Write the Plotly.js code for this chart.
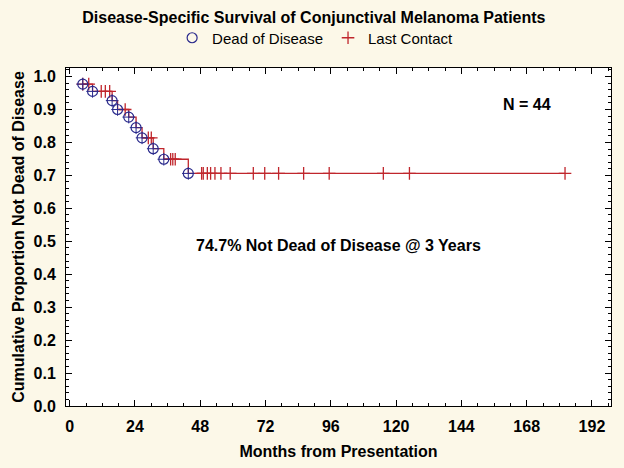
<!DOCTYPE html>
<html>
<head>
<meta charset="utf-8">
<script src="https://cdn.plot.ly/plotly-3.0.1.min.js"></script>
<style>
  html, body { margin: 0; padding: 0; background: #fcf8e8; }
  #chart { width: 624px; height: 468px; }
</style>
</head>
<body>
<div id="chart"></div>
<script>
// Event times (months) where patients died of disease, and survival after each event
var eventMonths   = [4.8, 8.4, 15.6, 17.6, 21.7, 24.4, 26.6, 30.7, 34.6, 43.6];
var eventSurvival = [0.977, 0.955, 0.927, 0.900, 0.877, 0.845, 0.814, 0.781, 0.749, 0.706];

// Censored (last contact) times and the survival level at which they sit
var censorMonths = [4.8, 7.0, 11.6, 13.1, 14.7, 20.4, 28.9, 30.0, 37.1, 37.9, 38.8,
                    48.5, 49.1, 50.6, 51.8, 53.4, 55.6, 59.0, 67.5, 71.7, 76.8, 86.0,
                    95.4, 115.3, 124.9, 182.1];
var censorSurvival = [0.977, 0.977, 0.955, 0.955, 0.955, 0.900, 0.814, 0.814, 0.749, 0.749, 0.749,
                      0.706, 0.706, 0.706, 0.706, 0.706, 0.706, 0.706, 0.706, 0.706, 0.706, 0.706,
                      0.706, 0.706, 0.706, 0.706];

var xTicks = [0, 24, 48, 72, 96, 120, 144, 168, 192];
var yTicks = [0.0, 0.1, 0.2, 0.3, 0.4, 0.5, 0.6, 0.7, 0.8, 0.9, 1.0];
var yTickLabels = ['0.0','0.1','0.2','0.3','0.4','0.5','0.6','0.7','0.8','0.9','1.0'];

var titleText = 'Disease-Specific Survival of Conjunctival Melanoma Patients';
var nText = 'N = 44';
var survText = '74.7% Not Dead of Disease @ 3 Years';

// Step curve built from the event data, extended to the last follow-up
var lastMonth = censorMonths[censorMonths.length - 1];
var stepX = eventMonths.concat([lastMonth]);
var stepY = eventSurvival.concat([eventSurvival[eventSurvival.length - 1]]);

var red = '#c0262c';
var navy = '#2a2a8c';
var FONT = 'Liberation Sans, Arial, sans-serif';

var traces = [
  {
    x: stepX, y: stepY, type: 'scatter', mode: 'lines',
    line: { shape: 'hv', color: red, width: 1.3 },
    showlegend: false, hoverinfo: 'skip'
  },
  {
    x: censorMonths, y: censorSurvival, type: 'scatter', mode: 'markers',
    name: 'Last Contact',
    marker: { symbol: 'cross-thin-open', size: 9, color: red, line: { color: red, width: 1.3 } }
  },
  {
    x: eventMonths, y: eventSurvival, type: 'scatter', mode: 'markers',
    showlegend: false, hoverinfo: 'skip',
    marker: { symbol: 'cross-thin-open', size: 9, color: navy, line: { color: navy, width: 1 } }
  },
  {
    x: eventMonths, y: eventSurvival, type: 'scatter', mode: 'markers',
    name: 'Dead of Disease',
    marker: { symbol: 'circle-open', size: 10, color: navy, line: { color: navy, width: 1.2 } }
  }
];

var layout = {
  width: 624, height: 468,
  paper_bgcolor: '#fcf8e8',
  plot_bgcolor: '#ffffff',
  margin: { l: 66, r: 13, t: 68, b: 62 },
  font: { family: FONT, color: '#000' },
  title: {
    text: '<b>' + titleText + '</b>',
    font: { family: FONT, size: 16, color: '#000' },
    x: 0.503, xref: 'container', xanchor: 'center',
    y: 1 - 17 / 468, yref: 'container', yanchor: 'middle'
  },
  showlegend: true,
  legend: {
    orientation: 'h',
    traceorder: 'reversed',
    x: 0.505, xref: 'container', xanchor: 'center',
    y: 1 - 38 / 468, yref: 'container', yanchor: 'middle',
    bgcolor: 'rgba(0,0,0,0)',
    font: { family: FONT, size: 15, color: '#000' },
    itemwidth: 30
  },
  xaxis: {
    range: [-1.36, 199],
    tickvals: xTicks,
    ticktext: xTicks.map(String),
    ticks: 'inside', ticklen: 6, tickwidth: 1, tickcolor: '#000',
    minor: { dtick: 6, ticks: 'inside', ticklen: 3, tickcolor: '#000', tickwidth: 1 },
    showline: true, linecolor: '#000', linewidth: 1, mirror: 'allticks',
    showgrid: false, zeroline: false,
    tickfont: { family: FONT, size: 16, color: '#000', weight: 'bold' },
    ticklabelstandoff: 6,
    title: { text: '<b>Months from Presentation</b>', font: { family: FONT, size: 16, color: '#000' }, standoff: 11 }
  },
  yaxis: {
    range: [0, 1.026],
    tickvals: yTicks,
    ticktext: yTickLabels,
    ticks: 'inside', ticklen: 6, tickwidth: 1, tickcolor: '#000',
    minor: { dtick: 0.02, tick0: 0, ticks: 'inside', ticklen: 3, tickcolor: '#000', tickwidth: 1 },
    showline: true, linecolor: '#000', linewidth: 1, mirror: 'allticks',
    showgrid: false, zeroline: false,
    tickfont: { family: FONT, size: 16, color: '#000', weight: 'bold' },
    ticklabelstandoff: 6,
    title: { text: '<b>Cumulative Proportion Not Dead of Disease</b>', font: { family: FONT, size: 16, color: '#000' }, standoff: 4 }
  },
  annotations: [
    { x: 168, y: 0.915, xref: 'x', yref: 'y', text: '<b>' + nText + '</b>', showarrow: false,
      font: { family: FONT, size: 16, color: '#000' } },
    { x: 99, y: 0.488, xref: 'x', yref: 'y', text: '<b>' + survText + '</b>', showarrow: false,
      font: { family: FONT, size: 16, color: '#000' } }
  ]
};

Plotly.newPlot('chart', traces, layout, { displayModeBar: false, staticPlot: true });
</script>
</body>
</html>
